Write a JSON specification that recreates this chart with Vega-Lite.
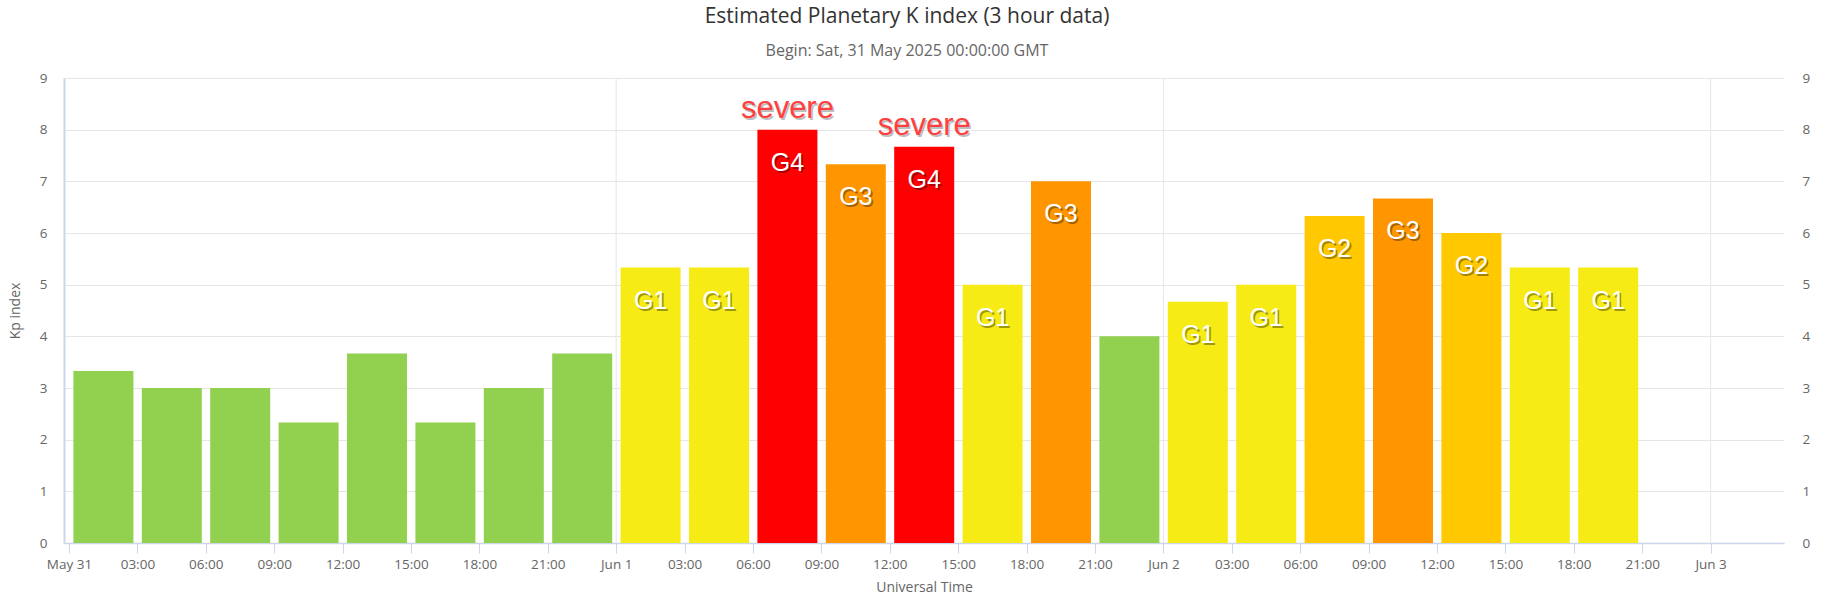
{
  "$schema": "https://vega.github.io/schema/vega-lite/v6.json",
  "width": 1720,
  "height": 465,
  "autosize": "none",
  "padding": {"left": 64, "top": 78, "right": 47, "bottom": 54},
  "background": "#ffffff",
  "title": {
    "text": "Estimated Planetary K index (3 hour data)",
    "subtitle": "Begin: Sat, 31 May 2025 00:00:00 GMT",
    "anchor": "middle",
    "dx": -17,
    "offset": 12,
    "font": "Open Sans",
    "fontSize": 21,
    "fontWeight": "normal",
    "color": "#333333",
    "subtitleFont": "Open Sans",
    "subtitleFontSize": 16,
    "subtitleColor": "#666666",
    "subtitlePadding": 16
  },
  "data": {
    "values": [
      {"time": "2025-05-31T00:00:00Z", "kp": 3.33, "storm": "G0"},
      {"time": "2025-05-31T03:00:00Z", "kp": 3.0, "storm": "G0"},
      {"time": "2025-05-31T06:00:00Z", "kp": 3.0, "storm": "G0"},
      {"time": "2025-05-31T09:00:00Z", "kp": 2.33, "storm": "G0"},
      {"time": "2025-05-31T12:00:00Z", "kp": 3.67, "storm": "G0"},
      {"time": "2025-05-31T15:00:00Z", "kp": 2.33, "storm": "G0"},
      {"time": "2025-05-31T18:00:00Z", "kp": 3.0, "storm": "G0"},
      {"time": "2025-05-31T21:00:00Z", "kp": 3.67, "storm": "G0"},
      {"time": "2025-06-01T00:00:00Z", "kp": 5.33, "storm": "G1"},
      {"time": "2025-06-01T03:00:00Z", "kp": 5.33, "storm": "G1"},
      {"time": "2025-06-01T06:00:00Z", "kp": 8.0, "storm": "G4", "alert": "severe"},
      {"time": "2025-06-01T09:00:00Z", "kp": 7.33, "storm": "G3"},
      {"time": "2025-06-01T12:00:00Z", "kp": 7.67, "storm": "G4", "alert": "severe"},
      {"time": "2025-06-01T15:00:00Z", "kp": 5.0, "storm": "G1"},
      {"time": "2025-06-01T18:00:00Z", "kp": 7.0, "storm": "G3"},
      {"time": "2025-06-01T21:00:00Z", "kp": 4.0, "storm": "G0"},
      {"time": "2025-06-02T00:00:00Z", "kp": 4.67, "storm": "G1"},
      {"time": "2025-06-02T03:00:00Z", "kp": 5.0, "storm": "G1"},
      {"time": "2025-06-02T06:00:00Z", "kp": 6.33, "storm": "G2"},
      {"time": "2025-06-02T09:00:00Z", "kp": 6.67, "storm": "G3"},
      {"time": "2025-06-02T12:00:00Z", "kp": 6.0, "storm": "G2"},
      {"time": "2025-06-02T15:00:00Z", "kp": 5.33, "storm": "G1"},
      {"time": "2025-06-02T18:00:00Z", "kp": 5.33, "storm": "G1"}
    ]
  },
  "layer": [
    {
      "mark": {"type": "bar", "width": 60, "xOffset": 34.4},
      "encoding": {
        "x": {
          "field": "time",
          "type": "temporal",
          "title": "Universal Time",
          "scale": {
            "type": "utc",
            "nice": false,
            "domain": ["2025-05-31T00:00:00Z", "2025-06-03T03:00:00Z"]
          },
          "axis": {
            "values": [
              1748649600000, 1748660400000, 1748671200000, 1748682000000, 1748692800000,
              1748703600000, 1748714400000, 1748725200000, 1748736000000, 1748746800000,
              1748757600000, 1748768400000, 1748779200000, 1748790000000, 1748800800000,
              1748811600000, 1748822400000, 1748833200000, 1748844000000, 1748854800000,
              1748865600000, 1748876400000, 1748887200000, 1748898000000, 1748908800000
            ],
            "labelExpr": "utchours(datum.value) == 0 ? utcFormat(datum.value, '%b %-d') : utcFormat(datum.value, '%H:%M')",
            "labelFlush": false,
            "labelOverlap": false,
            "labelFont": "Open Sans",
            "labelFontSize": 13.5,
            "labelColor": "#666666",
            "labelPadding": 4,
            "tickColor": "#ccd6eb",
            "tickSize": 10,
            "domainColor": "#ccd6eb",
            "domainWidth": 1.5,
            "grid": false,
            "titleFont": "Open Sans",
            "titleFontSize": 14,
            "titleFontWeight": "normal",
            "titleColor": "#666666",
            "titlePadding": 10
          }
        },
        "y": {
          "field": "kp",
          "type": "quantitative",
          "title": "Kp index",
          "scale": {"domain": [0, 9], "nice": false},
          "axis": {
            "values": [0, 1, 2, 3, 4, 5, 6, 7, 8, 9],
            "grid": true,
            "gridColor": "#e6e6e6",
            "ticks": false,
            "domainColor": "#ccd6eb",
            "domainWidth": 2,
            "labelFont": "Open Sans",
            "labelFontSize": 13.5,
            "labelColor": "#666666",
            "labelPadding": 17,
            "titleFont": "Open Sans",
            "titleFontSize": 14,
            "titleFontWeight": "normal",
            "titleColor": "#666666",
            "titlePadding": 17
          }
        },
        "color": {
          "field": "storm",
          "type": "nominal",
          "scale": {
            "domain": ["G0", "G1", "G2", "G3", "G4"],
            "range": ["#92d050", "#f6eb14", "#ffc800", "#ff9600", "#ff0000"]
          },
          "legend": null
        }
      }
    },
    {
      "data": {
        "values": [
          {"day": "2025-06-01T00:00:00Z"},
          {"day": "2025-06-02T00:00:00Z"},
          {"day": "2025-06-03T00:00:00Z"}
        ]
      },
      "mark": {"type": "rule", "color": "#e6e6e6", "strokeWidth": 1},
      "encoding": {
        "x": {"field": "day", "type": "temporal", "title": "Universal Time"}
      }
    },
    {
      "transform": [{"filter": "datum.storm != 'G0'"}],
      "mark": {"type": "text", "font": "Liberation Sans", "fontSize": 25, "baseline": "middle", "color": "#000000", "opacity": 0.35, "dx": 36, "dy": 35},
      "encoding": {
        "x": {"field": "time", "type": "temporal", "title": "Universal Time"},
        "y": {"field": "kp", "type": "quantitative", "axis": null},
        "text": {"field": "storm"}
      }
    },
    {
      "transform": [{"filter": "datum.storm != 'G0'"}],
      "mark": {"type": "text", "font": "Liberation Sans", "fontSize": 25, "baseline": "middle", "color": "#ffffff", "dx": 34.4, "dy": 33},
      "encoding": {
        "x": {"field": "time", "type": "temporal", "title": "Universal Time"},
        "y": {"field": "kp", "type": "quantitative", "axis": null},
        "text": {"field": "storm"}
      }
    },
    {
      "transform": [{"filter": "datum.alert == 'severe'"}],
      "mark": {"type": "text", "font": "Liberation Sans", "fontSize": 31, "baseline": "alphabetic", "color": "#000000", "opacity": 0.25, "dx": 36, "dy": -9.5},
      "encoding": {
        "x": {"field": "time", "type": "temporal", "title": "Universal Time"},
        "y": {"field": "kp", "type": "quantitative", "axis": null},
        "text": {"field": "alert"}
      }
    },
    {
      "transform": [{"filter": "datum.alert == 'severe'"}],
      "mark": {"type": "text", "font": "Liberation Sans", "fontSize": 31, "baseline": "alphabetic", "color": "#ff4040", "dx": 34.4, "dy": -11.5},
      "encoding": {
        "x": {"field": "time", "type": "temporal", "title": "Universal Time"},
        "y": {"field": "kp", "type": "quantitative", "axis": null},
        "text": {"field": "alert"}
      }
    },
    {
      "mark": {"type": "rule", "opacity": 0},
      "encoding": {
        "y": {
          "field": "kp",
          "type": "quantitative",
          "scale": {"domain": [0, 9], "nice": false},
          "axis": {
            "orient": "right",
            "values": [0, 1, 2, 3, 4, 5, 6, 7, 8, 9],
            "grid": false,
            "ticks": false,
            "domain": false,
            "title": null,
            "labelFont": "Open Sans",
            "labelFontSize": 13.5,
            "labelColor": "#666666",
            "labelPadding": 18
          }
        }
      }
    }
  ],
  "resolve": {"axis": {"y": "independent"}},
  "config": {
    "view": {"stroke": null}
  }
}
